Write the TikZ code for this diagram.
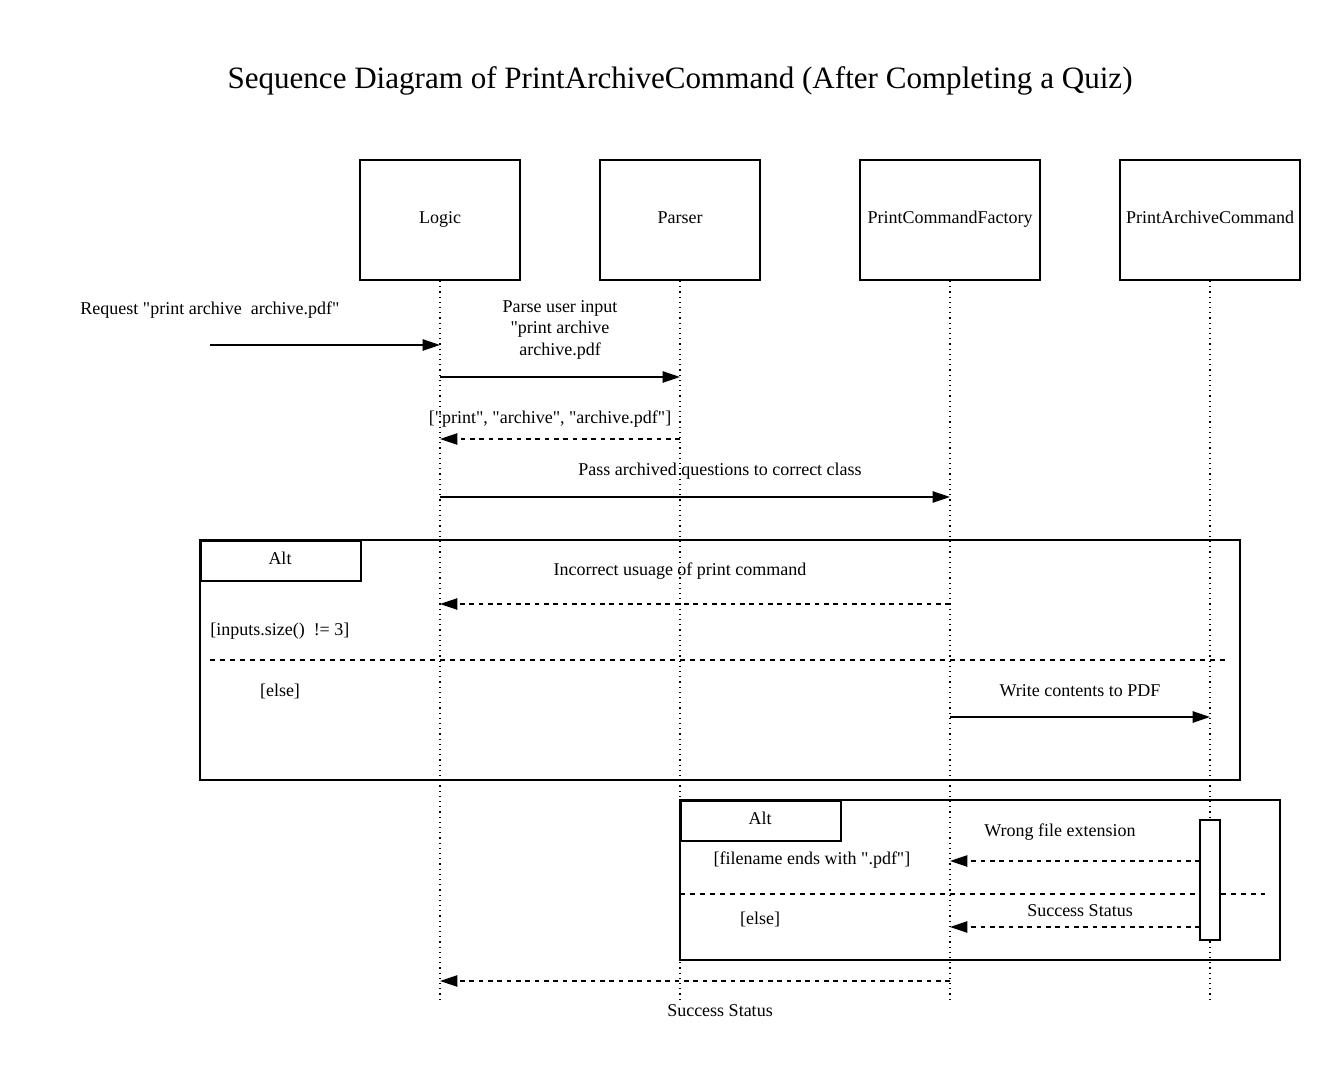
\documentclass[tikz,border=0pt]{standalone}
\usepackage{fontspec}
\setmainfont{Liberation Serif}[Ligatures=TeXOff]
\usetikzlibrary{arrows.meta}
\begin{document}
\begin{tikzpicture}[x=0.75pt,y=-0.75pt,
  obj/.style={draw,line width=1.5pt,minimum height=90pt,inner sep=0pt,text height=9pt,text depth=3pt,font=\fontsize{13.5}{16}\selectfont},
  life/.style={line width=0.9pt,dash pattern=on 0.9pt off 3pt},
  msg/.style={line width=1.1pt,-{Triangle[length=13pt,width=8.5pt]}},
  ret/.style={line width=1.1pt,dash pattern=on 3.5pt off 3.5pt,-{Triangle[length=13pt,width=8.5pt]}},
  frame/.style={draw,line width=1.3pt},
  sep/.style={line width=1.1pt,dash pattern=on 3.5pt off 4pt},
  lbl/.style={inner sep=0pt,font=\fontsize{13.5}{16.2}\selectfont,align=center}]
\useasboundingbox (0,0) rectangle (1340,1080);
\fill[white] (0,0) rectangle (1340,1080);
\node[inner sep=0pt,font=\fontsize{23.3}{28}\selectfont] (title) at (680,81) {Sequence Diagram of PrintArchiveCommand (After Completing a Quiz)};
% objects
\node[obj,minimum width=120pt] (logic) at (440,220) {Logic};
\node[obj,minimum width=120pt] (parser) at (680,220) {Parser};
\node[obj,minimum width=135pt] (pcf) at (950,220) {PrintCommandFactory};
\node[obj,minimum width=135pt] (pac) at (1210,220) {PrintArchiveCommand};
% lifeline ends
\coordinate (logicE) at (440,1000);
\coordinate (parserE) at (680,1000);
\coordinate (pcfE) at (950,1000);
\coordinate (pacE) at (1210,1000);
\draw[life] (logic.south) -- (logicE);
\draw[life] (parser.south) -- (parserE);
\draw[life] (pcf.south) -- (pcfE);
\draw[life] (pac.south) -- (pacE);
% frames
\draw[frame] (200,540) rectangle (1240,780);
\node[frame,minimum width=120pt,minimum height=30pt,inner sep=0pt,anchor=north west] (alt1) at (200,540) {};
\node[lbl] at (280,558) {Alt};
\draw[frame] (680,800) rectangle (1280,960);
\node[frame,minimum width=120pt,minimum height=30pt,inner sep=0pt,anchor=north west] (alt2) at (680,800) {};
\node[lbl] at (760,818) {Alt};
% messages
\coordinate (start) at (210,345);
\coordinate (l1) at (440,345);
\draw[msg] (start) -- (l1);
\node[lbl,anchor=base] at (210,315) {Request "print archive\ \ archive.pdf"};
\coordinate (l2) at (440,377);
\coordinate (p2) at (680,377);
\draw[msg] (l2) -- (p2);
\node[lbl,anchor=north] at (560,300) {Parse user input\\"print archive\\archive.pdf};
\coordinate (p3) at (680,439);
\coordinate (l3) at (440,439);
\draw[ret] (p3) -- (l3);
\node[lbl,anchor=base] at (550,424) {["print", "archive", "archive.pdf"]};
\coordinate (l4) at (440,497);
\coordinate (f4) at (950,497);
\draw[msg] (l4) -- (f4);
\node[lbl,anchor=base] at (720,476) {Pass archived questions to correct class};
% alt 1
\node[lbl,anchor=base] at (680,576) {Incorrect usuage of print command};
\coordinate (f5) at (950,604);
\coordinate (l5) at (440,604);
\draw[ret] (f5) -- (l5);
\node[lbl,anchor=base west] at (210,636) {[inputs.size()\ \ != 3]};
\coordinate (s1a) at (210,660);
\coordinate (s1b) at (1225,660);
\draw[sep] (s1a) -- (s1b);
\node[lbl,anchor=base] at (280,696) {[else]};
\node[lbl,anchor=base] at (1080,696) {Write contents to PDF};
\coordinate (f6) at (950,717);
\coordinate (a6) at (1210,717);
\draw[msg] (f6) -- (a6);
% alt 2
\node[draw,line width=1.3pt,fill=white,minimum width=15pt,minimum height=90pt,inner sep=0pt] (act) at (1210,880) {};
\node[lbl,anchor=base] at (1060,836) {Wrong file extension};
\coordinate (a7) at (1200,861);
\coordinate (f7) at (950,861);
\draw[ret] (a7) -- (f7);
\node[lbl,anchor=base] at (812,864) {[filename ends with ".pdf"]};
\coordinate (s2a) at (680,894);
\coordinate (s2b) at (1265,894);
\draw[sep] (s2a) -- (act.west |- s2a);
\draw[sep] (act.east |- s2b) -- (s2b);
\node[lbl,anchor=base] at (760,924) {[else]};
\node[lbl,anchor=base] at (1080,916) {Success Status};
\coordinate (a8) at (1200,927);
\coordinate (f8) at (950,927);
\draw[ret] (a8) -- (f8);
% final
\coordinate (f9) at (950,981);
\coordinate (l9) at (440,981);
\draw[ret] (f9) -- (l9);
\node[lbl,anchor=base] at (720,1016) {Success Status};
\end{tikzpicture}
\end{document}
